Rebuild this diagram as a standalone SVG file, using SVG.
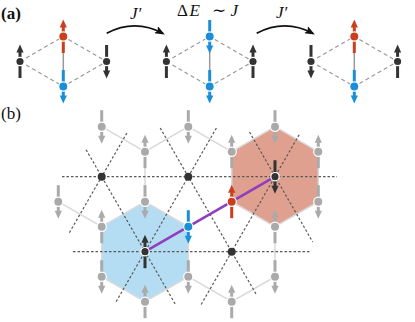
<svg xmlns="http://www.w3.org/2000/svg" xmlns:xlink="http://www.w3.org/1999/xlink" width="415" height="322" viewBox="0 0 415 322">
<style>
.lbl{font-family:'Liberation Serif','DejaVu Serif',serif;fill:#111}
.dk{color:#333333}
.gr{color:#aaaaaa}
.rd{color:#c8401e}
.bl{color:#1a8fd8}
.ndk{fill:#333333}
.ngr{fill:#aaaaaa;stroke:#ffffff;stroke-width:1.2}
.nrd{fill:#c8401e;stroke:#ffffff;stroke-width:1.2}
.nbl{fill:#1a8fd8;stroke:#ffffff;stroke-width:1.2}
.nak{fill:#333333;stroke:#ffffff;stroke-width:1.2}
.bond{stroke:#d9d9d9;stroke-width:1.5;fill:none}
.dash{stroke:#5a5a5a;stroke-width:1.2;stroke-dasharray:2.5 2;fill:none}
.adash{stroke:#999999;stroke-width:1.2;stroke-dasharray:4 3;fill:none}
.abond{stroke:#999999;stroke-width:1.5;fill:none}
.hop{stroke:#111111;stroke-width:1.8;fill:none}
</style>
<defs>
<g id="up">
<line x1="0" y1="16.5" x2="0" y2="-9.5" stroke="currentColor" stroke-width="3"/>
<path d="M0,-17 L3.6,-9 L-3.6,-9 Z" fill="currentColor"/>
</g>
<g id="dn">
<line x1="0" y1="-16.5" x2="0" y2="9.5" stroke="currentColor" stroke-width="3"/>
<path d="M0,17 L3.6,9 L-3.6,9 Z" fill="currentColor"/>
</g>
<marker id="ah" viewBox="0 0 10 8" refX="8" refY="4" markerWidth="10" markerHeight="8" orient="auto" markerUnits="userSpaceOnUse">
<path d="M0,0 L10,4 L0,8 L2,4 Z" fill="#111111"/>
</marker>
</defs>
<rect width="415" height="322" fill="#ffffff"/>

<!-- labels -->
<text class="lbl" font-family="Liberation Serif, DejaVu Serif, serif" x="1" y="19" font-size="17" font-weight="bold">(a)</text>
<text class="lbl" font-family="Liberation Serif, DejaVu Serif, serif" x="1" y="119" font-size="17">(b)</text>
<text class="lbl" font-family="Liberation Serif, DejaVu Serif, serif" x="130" y="19" font-size="17" font-style="italic">J′</text>
<text class="lbl" font-family="Liberation Serif, DejaVu Serif, serif" x="276" y="18" font-size="17" font-style="italic">J′</text>
<text class="lbl" font-family="Liberation Serif, DejaVu Serif, serif" font-size="17" y="15.5"><tspan x="177">Δ</tspan><tspan x="189.5" font-style="italic">E</tspan><tspan x="212">∼</tspan><tspan x="230.5" font-style="italic">J</tspan></text>

<!-- plaquettes -->
<g id="plaquettes">
<polygon id="hex-red" points="275,126.7 318.3,151.7 318.3,201.7 275,226.7 231.7,201.7 231.7,151.7" fill="#e0a090"/>
<polygon id="hex-blue" points="145,201.7 188.3,226.7 188.3,276.7 145,301.7 101.7,276.7 101.7,226.7" fill="#b4ddf4"/>
</g>

<!-- connectors -->
<g id="connectors">
<path class="hop" d="M106.7,33.3 Q135,18.5 163,33.5" marker-end="url(#ah)"/>
<path class="hop" d="M256.7,33.3 Q285,18.5 313,33.5" marker-end="url(#ah)"/>
<path class="adash" d="M20,61.5 L63.3,36.5 L106.6,61.5 L63.3,86.5 Z"/>
<path class="adash" d="M166.4,61.5 L209.7,36.5 L253,61.5 L209.7,86.5 Z"/>
<path class="adash" d="M311,61.5 L354.3,36.5 L397.6,61.5 L354.3,86.5 Z"/>
<line class="abond" x1="63.3" y1="36.5" x2="63.3" y2="86.5"/>
<line class="abond" x1="209.7" y1="36.5" x2="209.7" y2="86.5"/>
<line class="abond" x1="354.3" y1="36.5" x2="354.3" y2="86.5"/>
<path class="bond" d="M101.7,126.7 L145,151.7 L188.3,126.7 L231.7,151.7 L275,126.7 L318.3,151.7 L318.3,201.7 L275,226.7 L231.7,201.7 L231.7,151.7"/>
<path class="bond" d="M145,151.7 L145,201.7 L188.3,226.7 L188.3,276.7 L145,301.7 L101.7,276.7 L101.7,226.7 L145,201.7"/>
<path class="bond" d="M58.3,201.7 L101.7,226.7"/>
<path class="bond" d="M188.3,226.7 L231.7,201.7"/>
<path class="bond" d="M275,226.7 L275,276.7 L231.7,301.7 L188.3,276.7"/>
<line class="dash" x1="62" y1="176.7" x2="337" y2="176.7"/>
<line class="dash" x1="73" y1="251.7" x2="311" y2="251.7"/>
<line class="dash" x1="86.1" y1="149.7" x2="175.5" y2="304.5"/>
<line class="dash" x1="160.2" y1="128" x2="256.6" y2="295"/>
<line class="dash" x1="249.5" y1="132" x2="312.7" y2="242"/>
<line class="dash" x1="126.9" y1="133" x2="69.2" y2="233"/>
<line class="dash" x1="216.4" y1="128" x2="115.2" y2="303.3"/>
<line class="dash" x1="299.2" y1="134.7" x2="200.3" y2="306"/>
<line x1="145" y1="251.7" x2="275" y2="176.7" stroke="#8e3fbe" stroke-width="2.6"/>
</g>

<g id="a1-left" class="dk"><use xlink:href="#up" transform="translate(20,61.5)"/><circle class="nak" cx="20" cy="61.5" r="4.2"/></g>
<g id="a1-top" class="rd"><use xlink:href="#up" transform="translate(63.3,36.5)"/><circle class="nrd" cx="63.3" cy="36.5" r="4.6"/></g>
<g id="a1-bottom" class="bl"><use xlink:href="#dn" transform="translate(63.3,86.5)"/><circle class="nbl" cx="63.3" cy="86.5" r="4.6"/></g>
<g id="a1-right" class="dk"><use xlink:href="#dn" transform="translate(106.6,61.5)"/><circle class="nak" cx="106.6" cy="61.5" r="4.2"/></g>

<g id="a2-left" class="dk"><use xlink:href="#up" transform="translate(166.4,61.5)"/><circle class="nak" cx="166.4" cy="61.5" r="4.2"/></g>
<g id="a2-top" class="bl"><use xlink:href="#dn" transform="translate(209.7,36.5)"/><circle class="nbl" cx="209.7" cy="36.5" r="4.6"/></g>
<g id="a2-bottom" class="bl"><use xlink:href="#dn" transform="translate(209.7,86.5)"/><circle class="nbl" cx="209.7" cy="86.5" r="4.6"/></g>
<g id="a2-right" class="dk"><use xlink:href="#up" transform="translate(253,61.5)"/><circle class="nak" cx="253" cy="61.5" r="4.2"/></g>

<g id="a3-left" class="dk"><use xlink:href="#dn" transform="translate(311,61.5)"/><circle class="nak" cx="311" cy="61.5" r="4.2"/></g>
<g id="a3-top" class="rd"><use xlink:href="#up" transform="translate(354.3,36.5)"/><circle class="nrd" cx="354.3" cy="36.5" r="4.6"/></g>
<g id="a3-bottom" class="bl"><use xlink:href="#dn" transform="translate(354.3,86.5)"/><circle class="nbl" cx="354.3" cy="86.5" r="4.6"/></g>
<g id="a3-right" class="dk"><use xlink:href="#up" transform="translate(397.6,61.5)"/><circle class="nak" cx="397.6" cy="61.5" r="4.2"/></g>

<g id="c1"><circle class="ndk" cx="101.7" cy="176.7" r="4"/></g>
<g id="c2"><circle class="ndk" cx="188.3" cy="176.7" r="4"/></g>
<g id="c3" class="dk"><use xlink:href="#dn" transform="translate(275,176.7)"/><circle class="nak" cx="275" cy="176.7" r="4.2"/></g>
<g id="c4" class="dk"><use xlink:href="#up" transform="translate(145,251.7)"/><circle class="nak" cx="145" cy="251.7" r="4.2"/></g>
<g id="c5"><circle class="ndk" cx="231.7" cy="251.7" r="4"/></g>

<g id="s1" class="gr"><use xlink:href="#dn" transform="translate(101.7,126.7)"/><circle class="ngr" cx="101.7" cy="126.7" r="4.6"/></g>
<g id="s2" class="gr"><use xlink:href="#up" transform="translate(145,151.7)"/><circle class="ngr" cx="145" cy="151.7" r="4.6"/></g>
<g id="s3" class="gr"><use xlink:href="#dn" transform="translate(188.3,126.7)"/><circle class="ngr" cx="188.3" cy="126.7" r="4.6"/></g>
<g id="s4" class="gr"><use xlink:href="#up" transform="translate(231.7,151.7)"/><circle class="ngr" cx="231.7" cy="151.7" r="4.6"/></g>
<g id="s5" class="gr"><use xlink:href="#dn" transform="translate(275,126.7)"/><circle class="ngr" cx="275" cy="126.7" r="4.6"/></g>
<g id="s6" class="gr"><use xlink:href="#up" transform="translate(318.3,151.7)"/><circle class="ngr" cx="318.3" cy="151.7" r="4.6"/></g>
<g id="s7" class="gr"><use xlink:href="#dn" transform="translate(58.3,201.7)"/><circle class="ngr" cx="58.3" cy="201.7" r="4.6"/></g>
<g id="s8" class="gr"><use xlink:href="#up" transform="translate(101.7,226.7)"/><circle class="ngr" cx="101.7" cy="226.7" r="4.6"/></g>
<g id="s9" class="gr"><use xlink:href="#dn" transform="translate(145,201.7)"/><circle class="ngr" cx="145" cy="201.7" r="4.6"/></g>
<g id="s10" class="bl"><use xlink:href="#dn" transform="translate(188.3,226.7)"/><circle class="nbl" cx="188.3" cy="226.7" r="4.6"/></g>
<g id="s11" class="rd"><use xlink:href="#up" transform="translate(231.7,201.7)"/><circle class="nrd" cx="231.7" cy="201.7" r="4.6"/></g>
<g id="s12" class="gr"><use xlink:href="#up" transform="translate(275,226.7)"/><circle class="ngr" cx="275" cy="226.7" r="4.6"/></g>
<g id="s13" class="gr"><use xlink:href="#dn" transform="translate(318.3,201.7)"/><circle class="ngr" cx="318.3" cy="201.7" r="4.6"/></g>
<g id="s14" class="gr"><use xlink:href="#dn" transform="translate(101.7,276.7)"/><circle class="ngr" cx="101.7" cy="276.7" r="4.6"/></g>
<g id="s15" class="gr"><use xlink:href="#up" transform="translate(145,301.7)"/><circle class="ngr" cx="145" cy="301.7" r="4.6"/></g>
<g id="s16" class="gr"><use xlink:href="#dn" transform="translate(188.3,276.7)"/><circle class="ngr" cx="188.3" cy="276.7" r="4.6"/></g>
<g id="s17" class="gr"><use xlink:href="#up" transform="translate(231.7,301.7)"/><circle class="ngr" cx="231.7" cy="301.7" r="4.6"/></g>
<g id="s18" class="gr"><use xlink:href="#dn" transform="translate(275,276.7)"/><circle class="ngr" cx="275" cy="276.7" r="4.6"/></g>
</svg>
